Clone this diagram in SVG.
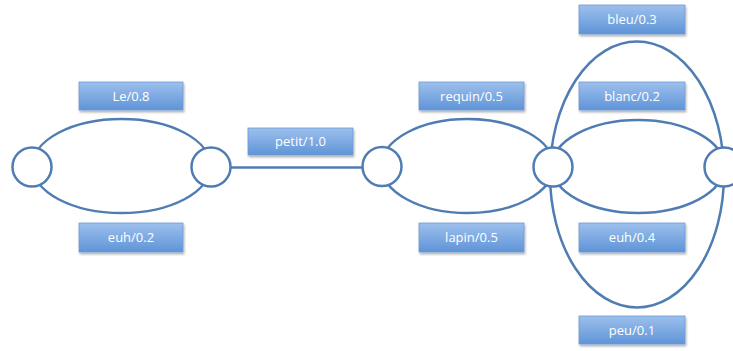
<svg xmlns="http://www.w3.org/2000/svg" width="733" height="351" viewBox="0 0 733 351">
<defs>
<linearGradient id="g" x1="0" y1="0" x2="0" y2="1">
<stop offset="0" stop-color="#9dc0ec"/>
<stop offset="1" stop-color="#5f94d8"/>
</linearGradient>
<filter id="sh" x="-10%" y="-20%" width="130%" height="160%">
<feDropShadow dx="1" dy="2" stdDeviation="1.2" flood-color="#000" flood-opacity="0.3"/>
</filter>
</defs>
<style>
.e{fill:none;stroke:#4f7cb3;stroke-width:2.5}
.n{fill:#fff;stroke:#4f7cb3;stroke-width:2.5}
.b{fill:url(#g);stroke:#6d9bd6;stroke-width:0.8;filter:url(#sh)}
.t{font-family:"Open Sans","Liberation Sans",sans-serif;font-size:13px;fill:#fff;text-anchor:middle}
</style>
<rect width="733" height="351" fill="#fff"/>
<g id="connectors">
<ellipse class="e" cx="121.5" cy="166" rx="89" ry="47"/>
<line class="e" x1="211" y1="167.5" x2="382" y2="167.5"/>
<ellipse class="e" cx="467.5" cy="166" rx="86" ry="47"/>
<ellipse class="e" cx="638" cy="166.5" rx="86" ry="46.5"/>
<ellipse class="e" cx="637" cy="174.5" rx="87" ry="133"/>
</g>
<g id="s0"><circle class="n" cx="32" cy="167" r="19.5"/></g>
<g id="s1"><circle class="n" cx="211" cy="167" r="19.5"/></g>
<g id="s2"><circle class="n" cx="382" cy="166.5" r="19.5"/></g>
<g id="s3"><circle class="n" cx="553" cy="167" r="19.5"/></g>
<g id="s4"><circle class="n" cx="724" cy="167" r="19.5"/></g>
<g id="l-le"><rect class="b" x="79" y="82" width="104" height="28"/><text class="t" x="131" y="100.5">Le/0.8</text></g>
<g id="l-euh1"><rect class="b" x="79" y="223" width="104" height="29"/><text class="t" x="131" y="242">euh/0.2</text></g>
<g id="l-petit"><rect class="b" x="248" y="128" width="105" height="27"/><text class="t" x="300.5" y="146">petit/1.0</text></g>
<g id="l-requin"><rect class="b" x="419" y="82" width="105" height="28"/><text class="t" x="471.5" y="100.5">requin/0.5</text></g>
<g id="l-lapin"><rect class="b" x="419" y="223" width="105" height="29"/><text class="t" x="471.5" y="242">lapin/0.5</text></g>
<g id="l-bleu"><rect class="b" x="579" y="5" width="106" height="29"/><text class="t" x="632" y="24">bleu/0.3</text></g>
<g id="l-blanc"><rect class="b" x="579" y="82" width="106" height="28"/><text class="t" x="632" y="100.5">blanc/0.2</text></g>
<g id="l-euh2"><rect class="b" x="579" y="223" width="106" height="29"/><text class="t" x="632" y="242">euh/0.4</text></g>
<g id="l-peu"><rect class="b" x="579" y="316" width="106" height="28"/><text class="t" x="632" y="334.5">peu/0.1</text></g>
</svg>
